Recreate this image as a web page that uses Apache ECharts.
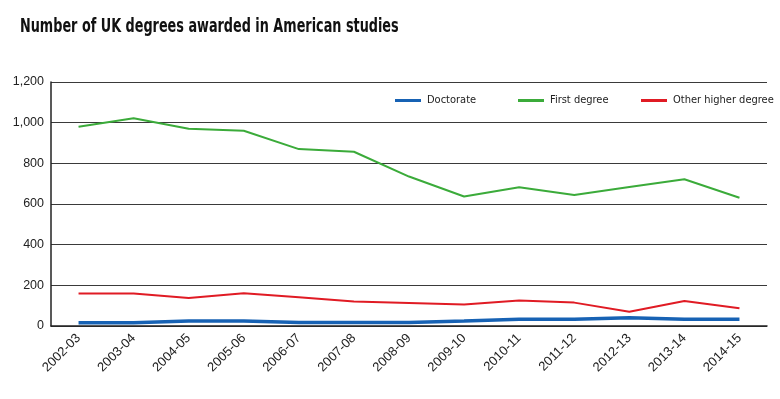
<!DOCTYPE html>
<html>
<head>
<meta charset="utf-8">
<script src="https://cdn.jsdelivr.net/npm/echarts@6/dist/echarts.min.js"></script>
<style>
html,body{margin:0;padding:0;background:#fff;}
#chart{width:780px;height:399px;}
</style>
</head>
<body>
<div id="chart"></div>
<script>
var categories = ['2002-03','2003-04','2004-05','2005-06','2006-07','2007-08','2008-09','2009-10','2010-11','2011-12','2012-13','2013-14','2014-15'];
var doctorate = [16,16,25,24,17,17,17,24,33,33,41,33,33];
var firstDegree = [980,1022,970,960,870,857,735,637,682,644,684,722,631];
var otherHigher = [160,160,138,161,141,120,113,106,125,115,70,123,87];
var yTicks = [0,200,400,600,800,1000,1200];
var seriesNames = ['Doctorate','First degree','Other higher degree'];
var titleText = 'Number of UK degrees awarded in American studies';
var colors = ['#1762b4','#3bab3a','#e01b24'];

var condensed = '"DejaVu Sans Condensed", "Roboto", sans-serif';
function legendAt(name, left){
  return {
    data:[name], left:left, top:95, padding:0,
    itemWidth:26, itemHeight:3, itemGap:0, icon:'rect',
    textStyle:{fontFamily:condensed, fontSize:11, color:'#222', padding:[0,0,0,1]}
  };
}

var chart = echarts.init(document.getElementById('chart'), null, {renderer:'canvas'});
chart.setOption({
  animation:false,
  backgroundColor:'#fff',
  graphic:[{
    type:'text', left:20, top:18, scaleX:0.75, originX:0, originY:0,
    style:{text:titleText, font:'bold 19px "DejaVu Sans Condensed", Roboto, sans-serif', fill:'#111'}
  }],
  legend:[legendAt(seriesNames[0],395), legendAt(seriesNames[1],518), legendAt(seriesNames[2],641)],
  grid:{left:51, right:13, top:82, bottom:73, containLabel:false},
  xAxis:{
    type:'category',
    data:categories,
    boundaryGap:true,
    axisLine:{lineStyle:{color:'#222', width:1.5}},
    axisTick:{show:false},
    axisLabel:{rotate:45, margin:10, fontFamily:'Liberation Sans', fontSize:13, color:'#222', interval:0}
  },
  yAxis:{
    type:'value',
    min:yTicks[0], max:yTicks[yTicks.length-1], interval:200,
    axisLine:{show:true, lineStyle:{color:'#222', width:1.5}},
    axisTick:{show:false},
    splitLine:{lineStyle:{color:'#3a3a3a', width:1}},
    axisLabel:{margin:7, fontFamily:'Liberation Sans', fontSize:12.5, color:'#222',
      formatter:function(v){return v.toLocaleString('en-US');}}
  },
  series:[
    {name:seriesNames[0], type:'line', data:doctorate, symbol:'none', lineStyle:{color:colors[0], width:3.5}, itemStyle:{color:colors[0]}},
    {name:seriesNames[1], type:'line', data:firstDegree, symbol:'none', lineStyle:{color:colors[1], width:2}, itemStyle:{color:colors[1]}},
    {name:seriesNames[2], type:'line', data:otherHigher, symbol:'none', lineStyle:{color:colors[2], width:2}, itemStyle:{color:colors[2]}}
  ]
});
</script>
</body>
</html>
